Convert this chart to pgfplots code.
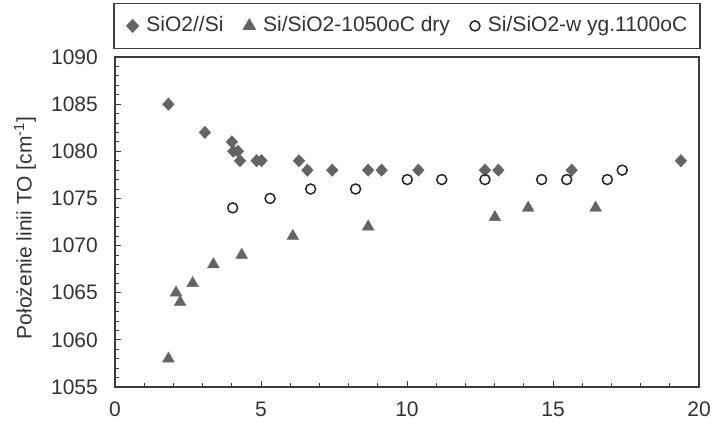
\documentclass[border=0pt]{standalone}
\usepackage{fontspec}
\setmainfont{Liberation Sans}
\usepackage{pgfplots}
\pgfplotsset{compat=1.18}
\definecolor{markgray}{RGB}{100,100,100}
\definecolor{framegray}{RGB}{60,60,60}

\begin{document}
\fontsize{21bp}{25bp}\selectfont
\begin{tikzpicture}
\begin{axis}[
  name=ax,
  scale only axis,
  width=584bp, height=330bp,
  xmin=0, xmax=20, ymin=1055, ymax=1090,
  xtick={0,5,10,15,20},
  ytick={1055,1060,...,1090},
  minor x tick num=4, minor y tick num=4,
  tick align=inside,
  xtick pos=bottom, ytick pos=left,
  major tick length=6bp, minor tick length=4bp,
  tick style={framegray, line width=0.9bp},
  axis line style={framegray, line width=1.6bp},
  /pgf/number format/assume math mode=true,
  /pgf/number format/1000 sep={},
  ticklabel style={font=\fontsize{21bp}{25bp}\selectfont, text=black!80},
  yticklabel style={xshift=-10bp},
  xticklabel style={yshift=-8bp},
  ylabel={Położenie linii TO [cm\textsuperscript{-1}]},
  every axis y label/.style={at={([xshift=-90bp,yshift=-6bp]rel axis cs:0,0.5)},
    rotate=90, anchor=center, inner sep=0pt,
    font=\fontsize{21bp}{25bp}\selectfont, text=black!80},
  legend columns=3,
  legend style={at={(0.5,1)}, anchor=south, yshift=8bp,
    draw=framegray, line width=1.2bp, minimum width=586bp, minimum height=45bp,
    inner xsep=5bp, inner ysep=0bp,
    nodes={minimum width=0pt, minimum height=0pt, inner sep=0pt, text=black!80},
    font=\fontsize{21bp}{25bp}\selectfont,
    /tikz/every odd column/.append style={column sep=8bp},
    /tikz/every even column/.append style={column sep=20bp}},
  legend image code/.code={\draw plot coordinates {(0bp,0bp)};},
]
\addplot[only marks, mark=diamond*, mark size=6.2bp, mark options={markgray, xscale=1.25}]
  coordinates {(1.83,1085)(3.08,1082)(4.0,1081)(4.05,1080)(4.21,1080)(4.28,1079)
  (4.85,1079)(5.02,1079)(6.30,1079)(6.59,1078)(7.44,1078)(8.67,1078)(9.13,1078)
  (10.39,1078)(12.67,1078)(13.13,1078)(15.64,1078)(19.38,1079)};
\addlegendentry{SiO2//Si}
\addplot[only marks, mark=triangle*, mark size=6.8bp, mark options={markgray}]
  coordinates {(1.83,1058)(2.09,1065)(2.23,1064)(2.66,1066)(3.37,1068)(4.34,1069)
  (6.09,1071)(8.67,1072)(13.01,1073)(14.15,1074)(16.46,1074)};
\addlegendentry{Si/SiO2-1050oC dry}
\addplot[only marks, mark=o, mark size=5bp, mark options={black!85, line width=1.5bp, fill=white}]
  coordinates {(4.03,1074)(5.31,1075)(6.70,1076)(8.24,1076)(10.01,1077)(11.19,1077)
  (12.67,1077)(14.61,1077)(15.47,1077)(16.86,1077)(17.37,1078)};
\addlegendentry{Si/SiO2-w yg.1100oC}
\end{axis}
\pgfresetboundingbox
\path ([xshift=-115bp,yshift=-45bp]ax.south west) rectangle ([xshift=16bp,yshift=57bp]ax.north east);
\end{tikzpicture}
\end{document}
